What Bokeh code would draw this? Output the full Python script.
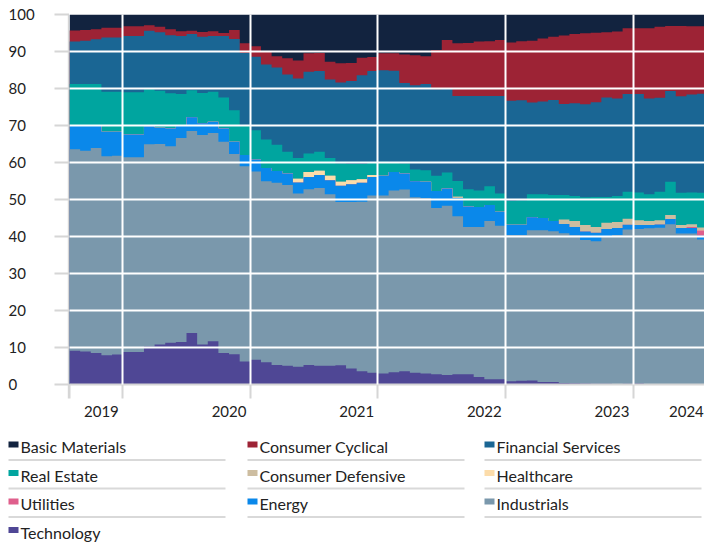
import numpy as np
from bokeh.plotting import figure
from bokeh.models import Range1d, FixedTicker
from bokeh.layouts import row, column
from bokeh.core.properties import value
from bokeh.embed import file_html
from bokeh.resources import INLINE

# ---------------- data (monthly sector weights, %) ----------------
months = [f"{2019 + (7 + i) // 12}-{(7 + i) % 12 + 1:02d}" for i in range(60)]  # 2019-08 .. 2024-07

technology = [9.1, 8.9, 8.5, 7.9, 8.1, 8.8, 8.8, 10.3, 10.8, 11.3, 11.5, 13.9, 10.8, 11.7, 8.5,
              8.2, 6.2, 6.7, 6.0, 5.3, 5.1, 4.8, 5.3, 5.1, 5.1, 5.2, 4.3, 3.6, 3.2, 3.0,
              3.3, 3.6, 3.2, 3.0, 2.8, 2.6, 2.8, 2.8, 2.0, 1.4, 1.4, 0.9, 1.0, 1.1, 0.7,
              0.7, 0.4, 0.35, 0.25, 0.2, 0.2, 0.15, 0.2, 0.3, 0.1, 0.05, 0.0, 0.0, 0.0, 0.0]
industrials = [54.5, 54.3, 55.4, 53.8, 53.7, 52.6, 52.6, 54.6, 54.2, 53.1, 55.1, 54.6, 56.6, 56.3, 57.1,
               54.1, 52.8, 50.9, 48.9, 49.2, 48.8, 46.8, 47.5, 48.0, 46.3, 44.1, 45.0, 45.8, 47.9, 48.1,
               49.1, 49.1, 47.4, 47.4, 44.9, 45.7, 42.7, 39.8, 40.6, 42.8, 41.5, 39.5, 39.4, 40.6, 41.0,
               40.7, 40.5, 40.0, 38.8, 38.5, 39.7, 40.3, 41.7, 41.7, 42.1, 42.3, 43.3, 40.8, 40.8, 39.2]
energy = [6.5, 6.9, 6.2, 6.6, 6.5, 6.2, 6.2, 4.9, 4.4, 4.8, 3.4, 3.7, 3.2, 3.0, 3.6,
          3.3, 3.0, 3.2, 3.6, 3.2, 3.1, 3.0, 3.3, 3.5, 3.8, 4.4, 4.8, 5.1, 5.0, 5.3,
          5.0, 4.3, 4.3, 4.4, 4.6, 4.7, 4.9, 5.5, 5.4, 4.3, 3.8, 2.8, 2.8, 3.5, 3.3,
          2.8, 2.5, 2.2, 2.3, 2.3, 2.1, 1.9, 1.3, 1.1, 0.9, 0.9, 1.4, 1.5, 1.5, 1.0]
utilities = [0.0] * 58 + [0.3, 1.4]
healthcare = [0.0] * 21 + [1.0, 1.3, 1.2, 1.2, 1.1, 1.1, 1.0, 0.5] + [0.0] * 31
consumer_defensive = ([0.0] * 36 + [0.4] + [0.0] * 9 +
                      [1.2, 1.6, 1.8, 1.6, 1.7, 1.6, 1.6, 1.3, 1.1, 1.1, 1.1, 0.8, 0.7, 0.8])
real_estate = [11.1, 11.1, 11.1, 10.8, 10.8, 11.4, 11.4, 10.0, 10.0, 9.5, 8.5, 7.3, 8.2, 8.1, 8.4,
               8.5, 8.1, 7.9, 7.7, 7.1, 5.9, 5.6, 5.0, 5.1, 4.8, 4.9, 4.4, 4.1, 3.3, 3.8,
               2.5, 2.7, 3.2, 3.1, 4.1, 4.3, 4.2, 4.7, 4.4, 5.1, 4.9, 6.4, 6.5, 6.2, 6.4,
               7.0, 6.6, 6.8, 7.5, 8.1, 7.0, 7.0, 7.3, 7.5, 7.2, 7.7, 9.0, 8.7, 8.6, 9.4]
financial_services = [11.5, 11.7, 12.1, 14.7, 14.7, 15.2, 15.2, 15.8, 15.8, 15.7, 15.7, 15.2, 15.2, 15.1, 16.6,
                      19.3, 19.5, 19.9, 20.3, 20.9, 20.9, 21.5, 22.1, 21.8, 21.2, 21.9, 22.4, 24.0, 24.8, 24.7,
                      24.9, 21.8, 22.8, 23.3, 23.4, 22.8, 23.0, 25.2, 25.6, 24.4, 26.4, 27.1, 27.1, 24.8, 25.1,
                      25.7, 24.6, 25.0, 25.1, 25.6, 26.9, 26.4, 26.4, 26.6, 25.9, 25.4, 24.5, 26.1, 26.5, 26.8]
consumer_cyclical = [3.0, 2.9, 2.7, 2.6, 2.6, 2.6, 2.6, 1.5, 1.5, 1.6, 1.3, 0.9, 1.3, 1.3, 0.8,
                     2.4, 2.6, 2.8, 3.4, 3.0, 4.4, 4.9, 5.0, 4.9, 4.8, 5.2, 4.9, 4.7, 3.8, 4.6,
                     4.7, 7.7, 8.1, 7.5, 10.6, 13.0, 14.2, 14.3, 14.7, 14.8, 15.1, 15.7, 16.0, 16.7, 17.0,
                     17.1, 18.5, 18.7, 19.2, 18.8, 17.6, 18.1, 17.8, 17.8, 19.0, 19.2, 17.6, 19.0, 18.4, 18.2]
basic_materials = [4.3, 4.2, 4.0, 3.6, 3.6, 3.2, 3.2, 2.9, 3.3, 4.0, 4.5, 4.4, 4.7, 4.5, 5.0,
                   4.2, 7.8, 8.6, 10.1, 11.3, 11.8, 12.4, 10.5, 10.4, 12.8, 13.2, 13.1, 11.7, 11.5, 10.5,
                   10.5, 10.8, 11.0, 11.3, 9.6, 6.9, 7.8, 7.7, 7.3, 7.2, 6.9, 7.6, 7.2, 7.1, 6.5,
                   6.0, 5.7, 5.3, 5.1, 4.9, 4.8, 4.6, 3.7, 3.7, 3.7, 3.3, 3.1, 3.1, 3.2, 3.2]

sectors = ["Basic Materials", "Consumer Cyclical", "Financial Services", "Real Estate",
           "Consumer Defensive", "Healthcare", "Utilities", "Energy", "Industrials", "Technology"]
colors = ["#12233f", "#9d2335", "#1a6694", "#00a59f", "#cdbda0",
          "#fcdcaa", "#df5f8c", "#0a88ea", "#7a98ac", "#4f4795"]
series = {
    "Basic Materials": basic_materials, "Consumer Cyclical": consumer_cyclical,
    "Financial Services": financial_services, "Real Estate": real_estate,
    "Consumer Defensive": consumer_defensive, "Healthcare": healthcare,
    "Utilities": utilities, "Energy": energy, "Industrials": industrials,
    "Technology": technology,
}
y_ticks = [0, 10, 20, 30, 40, 50, 60, 70, 80, 90, 100]

FONT = "Lato"
TXT = "#222222"
TICK = "#d6d6d6"
M = 8  # page margin drawn by ourselves (template has none)

# ---------------- derived positions ----------------
n = len(months)
year_starts = [i for i, m in enumerate(months) if m.endswith("-01")]
boundaries = [0] + year_starts
years = sorted(set(m[:4] for m in months))
x_end = n - 0.3
label_pos = [float(b - 2) for b in year_starts] + [float(round(x_end - 1.7))]
label_map = {pos: yr for pos, yr in zip(label_pos, years)}

# normalise each month to 100 %
mat = np.array([series[s] for s in sectors], dtype=float)
mat = mat / mat.sum(axis=0) * 100.0
stack = mat[::-1]                       # bottom (Technology) -> top (Basic Materials)
cum = np.cumsum(stack, axis=0)
stack_colors = colors[::-1]

xs = np.repeat(np.arange(n + 1), 2)[1:-1]

TOP, BOTTOM, H = 6 + M, 36, 420
FRAME_H = H - TOP - BOTTOM
PX = FRAME_H / 100.0                    # pixels per percentage point

# ---------------- main chart ----------------
p = figure(width=635, height=H, x_range=Range1d(0, x_end), y_range=Range1d(0, 100),
           output_backend="svg", toolbar_location=None, y_axis_location=None,
           min_border_left=0, min_border_right=0, min_border_top=TOP, min_border_bottom=BOTTOM)
p.outline_line_color = None
p.background_fill_color = "white"

# paint from the top layer down so neighbouring layers never leave seams
for k in range(len(stack) - 1, -1, -1):
    top = np.repeat(cum[k], 2)
    p.varea(x=xs, y1=np.zeros_like(top), y2=top, fill_color=stack_colors[k])

p.xgrid.ticker = FixedTicker(ticks=year_starts)
p.ygrid.ticker = FixedTicker(ticks=y_ticks[1:-1])
for g in (p.xgrid, p.ygrid):
    g.grid_line_color = "white"
    g.grid_line_width = 2
    g.grid_line_alpha = 1.0
    g.level = "overlay"

xa = p.xaxis[0]
xa.ticker = FixedTicker(ticks=label_pos, minor_ticks=boundaries)
xa.major_label_overrides = label_map
xa.major_tick_out = 0
xa.major_tick_in = 0
xa.major_tick_line_color = None
xa.minor_tick_out = 14
xa.minor_tick_in = 0
xa.minor_tick_line_color = TICK
xa.minor_tick_line_width = 2
xa.axis_line_color = TICK
xa.axis_line_width = 2
xa.major_label_standoff = 7
xa.major_label_text_font = FONT
xa.major_label_text_font_size = "15px"
xa.major_label_text_color = TXT

# ---------------- y labels (left-aligned), own un-aligned frame ----------------
YW = 61 + M
y_lo = -BOTTOM / PX
y_hi = 100 + TOP / PX
yl = figure(width=YW, height=H, x_range=Range1d(0, YW), y_range=Range1d(y_lo, y_hi),
            output_backend="svg", toolbar_location=None, x_axis_location=None, y_axis_location=None,
            min_border=0)
try:
    yl.frame_align = False
except Exception:
    pass
yl.grid.visible = False
yl.outline_line_color = None
yl.segment(x0=[YW - 15] * len(y_ticks), y0=y_ticks, x1=[YW] * len(y_ticks), y1=y_ticks,
           line_color=TICK, line_width=2)
yl.segment(x0=[YW - 0.7], y0=[-14 / PX], x1=[YW - 0.7], y1=[100], line_color=TICK, line_width=2)
yl.text(x=[M] * len(y_ticks), y=y_ticks, text=[str(t) for t in y_ticks],
        text_align="left", text_baseline="middle", text_font=value(FONT),
        text_font_size="15px", text_color=TXT)

# ---------------- legend ----------------
LW, LH = 704, 124
lg = figure(width=LW, height=LH, x_range=Range1d(0, LW), y_range=Range1d(LH, 0),
            output_backend="svg", toolbar_location=None, x_axis_location=None, y_axis_location=None,
            min_border=0)
lg.grid.visible = False
lg.outline_line_color = None
col_x = [M, M + 239, M + 476]
row_y = [26, 54.5, 83, 111.5]
lx, ly, ltxt, lcol = [], [], [], []
ux0, ux1, uy = [], [], []
for i, (name, c) in enumerate(zip(sectors, colors)):
    r, cidx = divmod(i, 3)
    lx.append(col_x[cidx])
    ly.append(row_y[r])
    ltxt.append(name)
    lcol.append(c)
n_rows = (len(sectors) + 2) // 3
for r in range(n_rows - 1):
    for cx in col_x:
        ux0.append(cx)
        ux1.append(cx + 217)
        uy.append(row_y[r] + 13.5)
lg.segment(x0=ux0, y0=uy, x1=ux1, y1=uy, line_color="#d9d9d9", line_width=2)
lg.quad(left=lx, right=[x + 10 for x in lx], top=[y - 5 for y in ly], bottom=[y + 1 for y in ly],
        fill_color=lcol, line_color=None)
lg.text(x=[x + 12 for x in lx], y=ly, text=ltxt, text_align="left", text_baseline="middle",
        text_font=value(FONT), text_font_size="16px", text_color=TXT)

layout = column(row(yl, p), lg)
open("out.html", "w").write(file_html(layout, INLINE))
